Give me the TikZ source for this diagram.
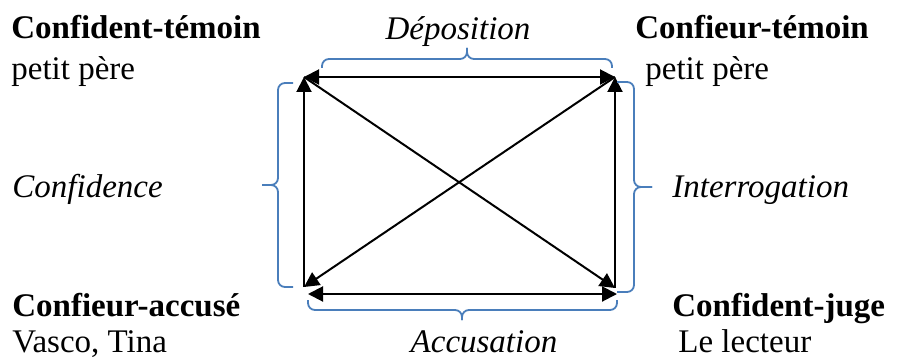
\documentclass[tikz,border=0pt]{standalone}
\usepackage{fontspec}
\setmainfont{Liberation Serif}
\usetikzlibrary{arrows.meta}
\definecolor{accol}{HTML}{4A7EBB}

\begin{document}
\begin{tikzpicture}[
  x=0.5pt,y=-0.5pt,
  every node/.style={inner sep=0pt,font=\fontsize{16.5}{20}\selectfont},
  titre/.style={anchor=base west,font=\fontsize{16.5}{20}\selectfont\bfseries},
  nom/.style={anchor=base west},
  rel/.style={anchor=base,font=\fontsize{16.5}{20}\selectfont\itshape},
  fl/.style={line width=1pt,-{Triangle[length=7.5pt,width=7.5pt]}},
  fll/.style={line width=1pt,{Triangle[length=7.5pt,width=7.5pt]}-{Triangle[length=7.5pt,width=7.5pt]}},
  acc/.style={draw=accol,line width=0.9pt,rounded corners=3.5pt}
]
  \useasboundingbox (0,0) rectangle (898,358);

  % coins du carre
  \coordinate (hg) at (304,77);
  \coordinate (hd) at (615,77);
  \coordinate (bg) at (304,287);
  \coordinate (bd) at (615,288);
  \coordinate (bg2) at (308,294);
  \coordinate (bd2) at (617,294);

  \draw[fll] (hg) -- (hd);
  \draw[fll] (bg2) -- (bd2);
  \draw[fl] (bg) -- (hg);
  \draw[fl] (bd) -- (hd);
  \draw[fl] (hg) -- (bd);
  \draw[fl] (hd) -- (bg);

  % accolades
  \draw[acc] (322,68) |- (467,59) -- (467,48);
  \draw[acc] (467,48) -- (467,59) -| (612,68);
  \draw[acc] (308,300) |- (462,310) -- (462,320);
  \draw[acc] (462,320) -- (462,310) -| (617,300);
  \draw[acc] (293,83) -| (278,185) -- (262,185);
  \draw[acc] (262,185) -- (278,185) |- (293,287);
  \draw[acc] (617,82) -| (634,187) -- (652,187);
  \draw[acc] (652,187) -- (634,187) |- (617,292);

  % personnages
  \node[titre] (ctem) at (11,39) {Confident-témoin};
  \node[nom] (ctemn) at (11,80) {petit père};
  \node[titre] (ftem) at (635,39) {Confieur-témoin};
  \node[nom] (ftemn) at (645,80) {petit père};
  \node[titre] (facc) at (12,316) {Confieur-accusé};
  \node[nom] (faccn) at (12,352) {Vasco, Tina};
  \node[titre] (cjug) at (672,316) {Confident-juge};
  \node[nom] (cjugn) at (678,352) {Le lecteur};

  % relations
  \node[rel] (depo) at (458,40) {Déposition};
  \node[rel] (accu) at (484,352) {Accusation};
  \node[rel,anchor=base west] (conf) at (12,197) {Confidence};
  \node[rel,anchor=base west] (inte) at (672,197) {Interrogation};
\end{tikzpicture}
\end{document}
